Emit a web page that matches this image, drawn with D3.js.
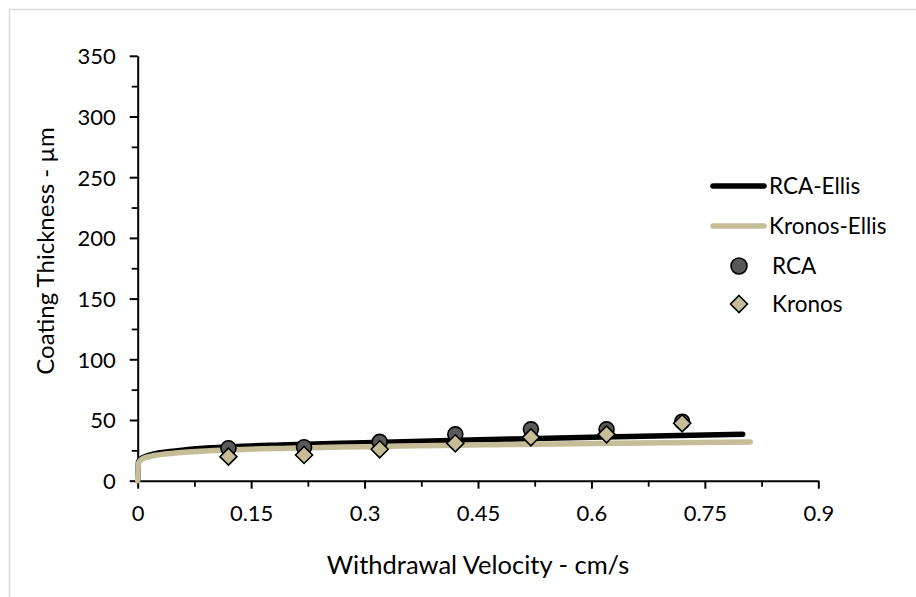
<!DOCTYPE html>
<html>
<head>
<meta charset="utf-8">
<script src="https://cdn.jsdelivr.net/npm/d3@7"></script>
<style>
  html, body { margin: 0; padding: 0; background: #fff; }
  svg text { font-family: Lato, "Open Sans", sans-serif; fill: #000; }
</style>
</head>
<body>
<svg id="chart" width="916" height="597"></svg>
<script>
// Withdrawal velocity (cm/s) of the measured samples
const velocity = [0.12, 0.22, 0.32, 0.42, 0.52, 0.62, 0.72];
// Measured coating thickness (µm)
const rcaMeasured    = [26.7, 27.5, 32.0, 38.2, 42.3, 42.3, 48.6];
const kronosMeasured = [19.8, 21.2, 25.9, 30.8, 35.7, 38.2, 47.3];

// Ellis model curves
const rcaEllisX    = [0, 0.001, 0.005, 0.01, 0.02, 0.05, 0.1, 0.2, 0.3, 0.4, 0.5, 0.6, 0.7, 0.8];
const rcaEllisY    = [0, 15.5, 18.5, 20.0, 21.8, 24.5, 27.2, 29.6, 31.3, 32.9, 34.4, 35.8, 37.1, 38.2];
const kronosEllisX = [0, 0.001, 0.005, 0.01, 0.02, 0.05, 0.1, 0.2, 0.3, 0.4, 0.5, 0.6, 0.7, 0.81];
const kronosEllisY = [0, 14.5, 17.5, 19.0, 20.5, 22.8, 24.8, 26.8, 28.0, 29.0, 29.9, 30.7, 31.3, 31.8];

// Axis ticks
const xMajorTicks = [0, 0.15, 0.3, 0.45, 0.6, 0.75, 0.9];
const xMinorTicks = [0.075, 0.225, 0.375, 0.525, 0.675, 0.825];
const yMajorTicks = [0, 50, 100, 150, 200, 250, 300, 350];
const yMinorTicks = [25, 75, 125, 175, 225, 275, 325];

const seriesNames = ["RCA-Ellis", "Kronos-Ellis", "RCA", "Kronos"];

const TAN = "#c4bd97";
const GREY = "#595959";

const svg = d3.select("#chart");

// outer chart border
svg.append("rect")
  .attr("x", 9.5).attr("y", 9.5)
  .attr("width", 1000).attr("height", 700)
  .attr("fill", "none").attr("stroke", "#d9d9d9").attr("stroke-width", 1.5);

const x = d3.scaleLinear().domain([0, 0.9]).range([137.7, 818.3]);
const y = d3.scaleLinear().domain([0, 350]).range([480.7, 55.8]);

const fmt = d => d3.format("~g")(d);

// minor ticks
svg.append("g")
  .attr("transform", `translate(0,${y(0)})`)
  .call(d3.axisBottom(x).tickValues(xMinorTicks).tickSize(6).tickFormat(""))
  .call(g => g.select(".domain").remove())
  .call(g => g.selectAll("line").attr("stroke-width", 1.8));
svg.append("g")
  .attr("transform", `translate(${x(0)},0)`)
  .call(d3.axisLeft(y).tickValues(yMinorTicks).tickSize(6).tickFormat(""))
  .call(g => g.select(".domain").remove())
  .call(g => g.selectAll("line").attr("stroke-width", 1.8));

// major axes
const xAxis = svg.append("g")
  .attr("transform", `translate(0,${y(0)})`)
  .call(d3.axisBottom(x).tickValues(xMajorTicks).tickSize(8).tickSizeOuter(0)
        .tickPadding(17).tickFormat(fmt));
const yAxis = svg.append("g")
  .attr("transform", `translate(${x(0)},0)`)
  .call(d3.axisLeft(y).tickValues(yMajorTicks).tickSize(8).tickSizeOuter(0)
        .tickPadding(14).tickFormat(fmt));
[xAxis, yAxis].forEach(g => {
  g.select(".domain").attr("stroke-width", 2);
  g.selectAll(".tick line").attr("stroke-width", 2);
  g.selectAll(".tick text").style("font-size", "22px").attr("fill", "#000");
  g.attr("font-family", null).attr("font-size", null);
});
yAxis.selectAll(".tick text").attr("dy", "0.36em");

// axis titles
svg.append("text")
  .attr("x", 478).attr("y", 574)
  .attr("text-anchor", "middle")
  .style("font-size", "25.5px")
  .text("Withdrawal Velocity - cm/s");
svg.append("text")
  .attr("transform", "translate(54,251) rotate(-90)")
  .attr("text-anchor", "middle")
  .style("font-size", "24px")
  .text("Coating Thickness - µm");

// model curves
const line = d3.line().x(d => x(d[0])).y(d => y(d[1])).curve(d3.curveMonotoneX);
svg.append("path")
  .datum(d3.zip(rcaEllisX, rcaEllisY))
  .attr("d", line)
  .attr("fill", "none").attr("stroke", "#000").attr("stroke-width", 5.5)
  .attr("stroke-linecap", "round").attr("stroke-linejoin", "round");
svg.append("path")
  .datum(d3.zip(kronosEllisX, kronosEllisY))
  .attr("d", line)
  .attr("fill", "none").attr("stroke", TAN).attr("stroke-width", 5.5)
  .attr("stroke-linecap", "round").attr("stroke-linejoin", "round");

// measured points
const diamond = "M0,-8.5L8.5,0L0,8.5L-8.5,0Z";
svg.append("g").selectAll("circle")
  .data(d3.zip(velocity, rcaMeasured))
  .join("circle")
  .attr("cx", d => x(d[0])).attr("cy", d => y(d[1])).attr("r", 7.5)
  .attr("fill", GREY).attr("stroke", "#000").attr("stroke-width", 1.6);
svg.append("g").selectAll("path")
  .data(d3.zip(velocity, kronosMeasured))
  .join("path")
  .attr("transform", d => `translate(${x(d[0])},${y(d[1])})`)
  .attr("d", diamond)
  .attr("fill", TAN).attr("stroke", "#000").attr("stroke-width", 1.6);

// legend
const lg = svg.append("g");
const rows = [186, 226, 266, 304];
lg.append("line").attr("x1", 713).attr("x2", 764).attr("y1", rows[0]).attr("y2", rows[0])
  .attr("stroke", "#000").attr("stroke-width", 5.5).attr("stroke-linecap", "round");
lg.append("line").attr("x1", 713).attr("x2", 764).attr("y1", rows[1]).attr("y2", rows[1])
  .attr("stroke", TAN).attr("stroke-width", 5.5).attr("stroke-linecap", "round");
lg.append("circle").attr("cx", 739).attr("cy", rows[2]).attr("r", 8)
  .attr("fill", GREY).attr("stroke", "#000").attr("stroke-width", 1.6);
lg.append("path").attr("transform", `translate(739,${rows[3]})`).attr("d", diamond)
  .attr("fill", TAN).attr("stroke", "#000").attr("stroke-width", 1.6);
lg.selectAll("text.lbl")
  .data(seriesNames)
  .join("text")
  .attr("class", "lbl")
  .attr("x", (d, i) => i < 2 ? 769 : 772)
  .attr("y", (d, i) => rows[i])
  .attr("dy", "0.36em")
  .style("font-size", "22.5px")
  .text(d => d);
</script>
</body>
</html>
